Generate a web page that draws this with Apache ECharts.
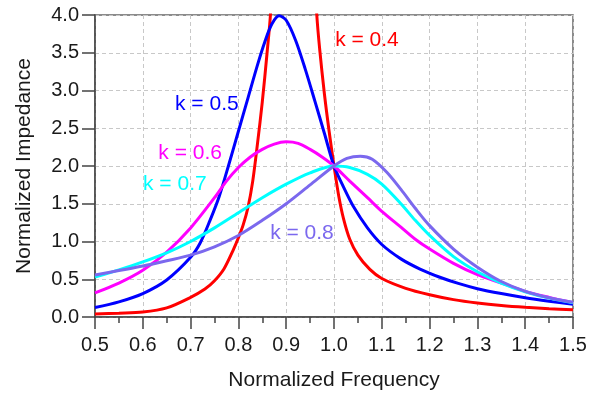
<!DOCTYPE html>
<html>
<head>
<meta charset="utf-8">
<script src="https://cdn.jsdelivr.net/npm/echarts@6/dist/echarts.min.js"></script>
<style>html,body{margin:0;padding:0;background:#fff}#c{width:600px;height:398px}</style>
</head>
<body>
<div id="c"></div>
<script>
// ---- data ----
const kLabels = ['k = 0.4', 'k = 0.5', 'k = 0.6', 'k = 0.7', 'k = 0.8'];

const redX = [0.5, 0.55, 0.6, 0.65, 0.7, 0.73, 0.75, 0.77, 0.79, 0.8, 0.81, 0.82, 0.83, 0.84, 0.85, 0.86, 0.867, 0.875, 0.915, 0.955, 0.964, 0.97, 0.98, 0.99, 1.0, 1.01, 1.02, 1.033, 1.05, 1.075, 1.1, 1.15, 1.2, 1.25, 1.3, 1.35, 1.4, 1.45, 1.5];
const redY = [0.04, 0.05, 0.065, 0.12, 0.26, 0.37, 0.48, 0.64, 0.9, 1.05, 1.22, 1.45, 1.8, 2.3, 2.85, 3.5, 4.0, 5.0, 8.0, 5.0, 4.0, 3.55, 2.95, 2.45, 2.0, 1.6, 1.3, 1.03, 0.82, 0.63, 0.51, 0.38, 0.295, 0.23, 0.185, 0.152, 0.128, 0.11, 0.095];

const blueX = [0.5, 0.55, 0.6, 0.65, 0.7, 0.72, 0.74, 0.76, 0.78, 0.8, 0.82, 0.84, 0.855, 0.87, 0.885, 0.9, 0.92, 0.94, 0.96, 0.98, 1.0, 1.02, 1.04, 1.07, 1.1, 1.14, 1.18, 1.22, 1.26, 1.3, 1.35, 1.4, 1.45, 1.5];
const blueY = [0.125, 0.2, 0.31, 0.49, 0.79, 0.98, 1.27, 1.6, 2.02, 2.46, 2.9, 3.34, 3.64, 3.88, 3.99, 3.93, 3.66, 3.28, 2.86, 2.43, 2.0, 1.72, 1.47, 1.18, 0.96, 0.77, 0.635, 0.53, 0.445, 0.375, 0.31, 0.255, 0.21, 0.17];

const magentaX = [0.5, 0.55, 0.6, 0.65, 0.7, 0.75, 0.775, 0.8, 0.825, 0.85, 0.875, 0.9, 0.925, 0.95, 0.975, 1.0, 1.033, 1.07, 1.1, 1.14, 1.17, 1.2, 1.25, 1.3, 1.35, 1.4, 1.45, 1.5];
const magentaY = [0.32, 0.45, 0.62, 0.86, 1.18, 1.58, 1.8, 1.98, 2.12, 2.22, 2.29, 2.32, 2.3, 2.22, 2.12, 2.0, 1.8, 1.58, 1.4, 1.19, 1.03, 0.9, 0.71, 0.56, 0.45, 0.34, 0.26, 0.19];

const cyanX = [0.5, 0.55, 0.6, 0.65, 0.7, 0.75, 0.8, 0.85, 0.9, 0.95, 1.0, 1.033, 1.07, 1.1, 1.14, 1.17, 1.2, 1.25, 1.3, 1.35, 1.4, 1.45, 1.5];
const cyanY = [0.53, 0.625, 0.73, 0.85, 1.0, 1.18, 1.38, 1.58, 1.76, 1.91, 2.0, 1.98, 1.89, 1.76, 1.5, 1.28, 1.08, 0.8, 0.6, 0.45, 0.335, 0.25, 0.19];

const purpleX = [0.5, 0.55, 0.6, 0.65, 0.7, 0.75, 0.8, 0.85, 0.9, 0.95, 1.0, 1.027, 1.055, 1.08, 1.11, 1.14, 1.17, 1.2, 1.25, 1.3, 1.35, 1.4, 1.45, 1.5];
const purpleY = [0.555, 0.615, 0.675, 0.745, 0.82, 0.93, 1.08, 1.28, 1.5, 1.75, 2.0, 2.1, 2.13, 2.09, 1.92, 1.69, 1.44, 1.21, 0.9, 0.66, 0.47, 0.34, 0.255, 0.195];

const xTicks = { min: 0.5, max: 1.5, step: 0.1 };
const yTicks = { min: 0, max: 4, step: 0.5 };

// ---- chart ----
const FONT = 'Liberation Sans, Arial, sans-serif';
const pairs = (xs, ys) => xs.map((x, i) => [x, ys[i]]);

const seriesDefs = [
  { name: kLabels[0], xs: redX, ys: redY, color: '#ff0000', at: [1.069, 3.66] },
  { name: kLabels[1], xs: blueX, ys: blueY, color: '#0000ff', at: [0.734, 2.82] },
  { name: kLabels[2], xs: magentaX, ys: magentaY, color: '#ff00ff', at: [0.699, 2.17] },
  { name: kLabels[3], xs: cyanX, ys: cyanY, color: '#00ffff', at: [0.667, 1.76] },
  { name: kLabels[4], xs: purpleX, ys: purpleY, color: '#7b68ee', at: [0.933, 1.11] }
];

const chart = echarts.init(document.getElementById('c'), null, { renderer: 'canvas' });
chart.setOption({
  animation: false,
  backgroundColor: '#fff',
  grid: { left: 95, right: 27, top: 15, bottom: 81, show: true, borderColor: '#666', borderWidth: 1.5, backgroundColor: 'transparent' },
  xAxis: {
    type: 'value', min: xTicks.min, max: xTicks.max, interval: xTicks.step,
    name: 'Normalized Frequency', nameLocation: 'middle', nameGap: 53,
    nameTextStyle: { fontFamily: FONT, fontSize: 21, color: '#1a1a1a' },
    axisLine: { show: true, onZero: false, lineStyle: { color: '#444', width: 1.5 } },
    axisTick: { show: true, length: 12, lineStyle: { color: '#444', width: 1.5 } },
    minorTick: { show: true, splitNumber: 2, length: 6, lineStyle: { color: '#444', width: 1.5 } },
    axisLabel: { fontFamily: FONT, fontSize: 20, color: '#1a1a1a', margin: 18, formatter: v => v.toFixed(1) },
    splitLine: { show: true, lineStyle: { color: '#c8c8c8', type: [4, 3], width: 1 } }
  },
  yAxis: {
    type: 'value', min: yTicks.min, max: yTicks.max, interval: yTicks.step,
    name: 'Normalized Impedance', nameLocation: 'middle', nameGap: 60,
    nameTextStyle: { fontFamily: FONT, fontSize: 21, color: '#1a1a1a' },
    axisLine: { show: true, onZero: false, lineStyle: { color: '#444', width: 1.5 } },
    axisTick: { show: true, length: 13, lineStyle: { color: '#444', width: 1.5 } },
    axisLabel: { fontFamily: FONT, fontSize: 20, color: '#1a1a1a', margin: 16, formatter: v => v.toFixed(1) },
    splitLine: { show: true, lineStyle: { color: '#c8c8c8', type: [4, 3], width: 1 } }
  },
  series: seriesDefs.map(s => ({
    name: s.name,
    type: 'line',
    data: pairs(s.xs, s.ys),
    showSymbol: false,
    smooth: 0.3,
    clip: true,
    lineStyle: { color: s.color, width: 3 },
    itemStyle: { color: s.color },
    markPoint: {
      symbol: 'circle', symbolSize: 0,
      data: [{ coord: s.at }],
      label: { show: true, position: 'inside', formatter: s.name, color: s.color, fontFamily: FONT, fontSize: 21 }
    }
  }))
});
</script>
</body>
</html>
